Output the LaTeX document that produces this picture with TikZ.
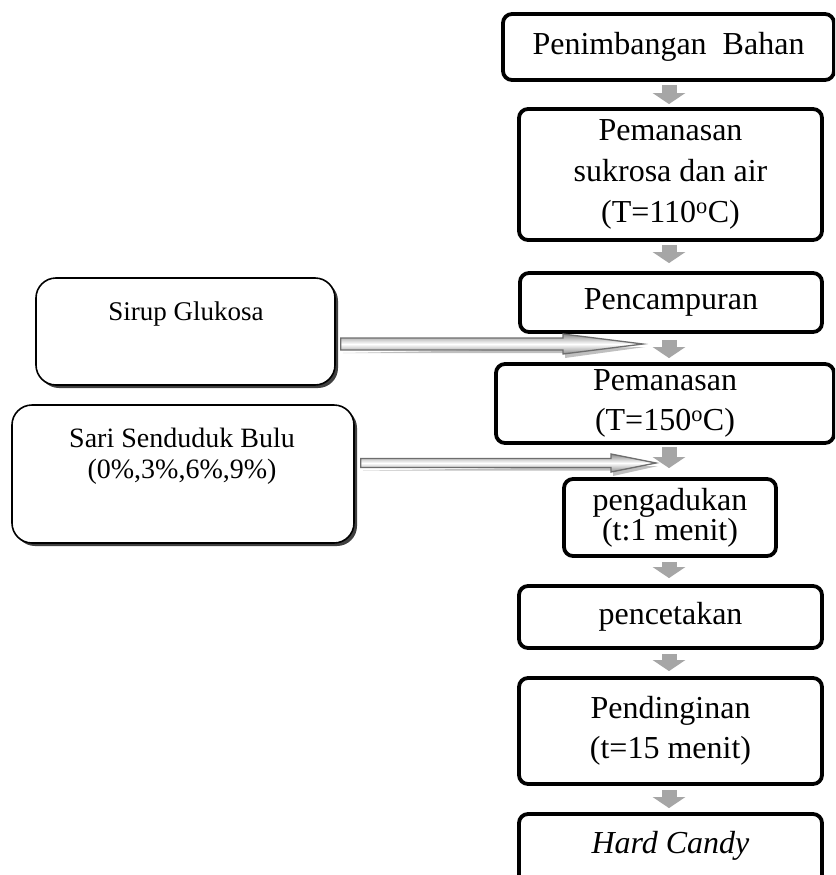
\documentclass[tikz,border=0pt]{standalone}
\usepackage{fontspec}
\setmainfont{Liberation Serif}
\usetikzlibrary{arrows.meta,calc,shadows}
\definecolor{arrowgray}{HTML}{A6A6A6}
\definecolor{hollowedge}{HTML}{6E6E6E}
\newcommand\hollowarrow[5]{%
  % #1 start, #2 tip, #3 head length, #4 shaft half height, #5 head half height
  \fill[black!25] ($(#1)+(2,#4+3)$) -- ($(#2)+(-#3+2,#4+3)$) -- ($(#2)+(-#3+2,#5+4)$) -- ($(#2)+(2,3)$) -- cycle;
  \shade[top color=black!45, bottom color=black!45, middle color=white, draw=hollowedge, line width=1.3pt, line join=miter]
    ($(#1)+(0,-#4)$) -- ($(#2)+(-#3,-#4)$) -- ($(#2)+(-#3,-#5)$) -- (#2) -- ($(#2)+(-#3,#5)$) -- ($(#2)+(-#3,#4)$) -- ($(#1)+(0,#4)$) -- cycle;
}
\begin{document}
\begin{tikzpicture}[x=1pt,y=-1pt,
  procbox/.style={draw=black, line width=3.8pt, rounded corners=9pt, fill=white, inner sep=0pt, align=center, font=\fontsize{32}{41}\selectfont},
  inbox/.style={draw=black, line width=1.6pt, rounded corners=20pt, fill=white, inner sep=0pt,
     drop shadow={shadow xshift=3pt, shadow yshift=-3pt, fill=black!75, opacity=1}},
  intext/.style={inner sep=0pt, align=center},
  flow/.style={line width=15pt, draw=arrowgray, -{Triangle[width=32pt,length=11pt]}}]
\useasboundingbox (0,0) rectangle (835,875);
\clip (0,0) rectangle (835,875);

\coordinate (ax) at (669,0);

\node[procbox, minimum width=331pt, minimum height=66pt, font=\fontsize{32}{38}\selectfont] (b1) at (668.5,47) {Penimbangan\ \ Bahan};
\node[procbox, minimum width=303pt, minimum height=131pt] (b2) at (670.5,174.5) {Pemanasan\\sukrosa dan air\\(T=110\textsuperscript{o}C)};
\node[procbox, minimum width=302pt, minimum height=59pt] (b3) at (671,302.5) {Pencampuran};
\node[procbox, minimum width=338pt, minimum height=79pt, font=\fontsize{32}{40}\selectfont] (b4) at (665,403.5) {Pemanasan\\(T=150\textsuperscript{o}C)};
\node[procbox, minimum width=212pt, minimum height=77pt, font=\fontsize{32}{30}\selectfont] (b5) at (670,517.5) {pengadukan\\(t:1 menit)};
\node[procbox, minimum width=303pt, minimum height=62pt] (b6) at (670.5,617) {pencetakan};
\node[procbox, minimum width=303pt, minimum height=106pt, font=\fontsize{32}{40}\selectfont] (b7) at (670.5,731) {Pendinginan\\(t=15 menit)};
\node[procbox, minimum width=303pt, minimum height=90pt, text depth=34pt] (b8) at (670.5,859) {\itshape Hard Candy};

\draw[flow] ($(b1.south -| ax)+(0,3)$) -- ($(b2.north -| ax)+(0,-3)$);
\draw[flow] ($(b2.south -| ax)+(0,3)$) -- ($(b3.north -| ax)+(0,-8)$);
\draw[flow] ($(b3.south -| ax)+(0,6)$) -- ($(b4.north -| ax)+(0,-4)$);
\draw[flow] ($(b4.south -| ax)+(0,2)$) -- ($(b5.north -| ax)+(0,-9)$);
\draw[flow] ($(b5.south -| ax)+(0,4)$) -- ($(b6.north -| ax)+(0,-6)$);
\draw[flow] ($(b6.south -| ax)+(0,4)$) -- ($(b7.north -| ax)+(0,-5)$);
\draw[flow] ($(b7.south -| ax)+(0,4)$) -- ($(b8.north -| ax)+(0,-4)$);

\node[inbox, minimum width=299pt, minimum height=107pt] (sirup) at (185.5,331.5) {};
\node[intext, font=\fontsize{27}{32}\selectfont] (sirupt) at (186,314) {Sirup Glukosa};
\node[inbox, minimum width=342pt, minimum height=138pt] (sari) at (183,474) {};
\node[intext, font=\fontsize{28}{31}\selectfont] (sarit) at (182,456) {Sari Senduduk Bulu\\(0\%,3\%,6\%,9\%)};

\coordinate (h1s) at ($(sirup.east)+(5,12.5)$);
\coordinate (h1t) at (643,344);
\hollowarrow{h1s}{h1t}{80}{6}{10}
\coordinate (h2s) at ($(sari.east)+(6,-11)$);
\coordinate (h2t) at (656,463);
\hollowarrow{h2s}{h2t}{45}{4.5}{9}
\end{tikzpicture}
\end{document}
